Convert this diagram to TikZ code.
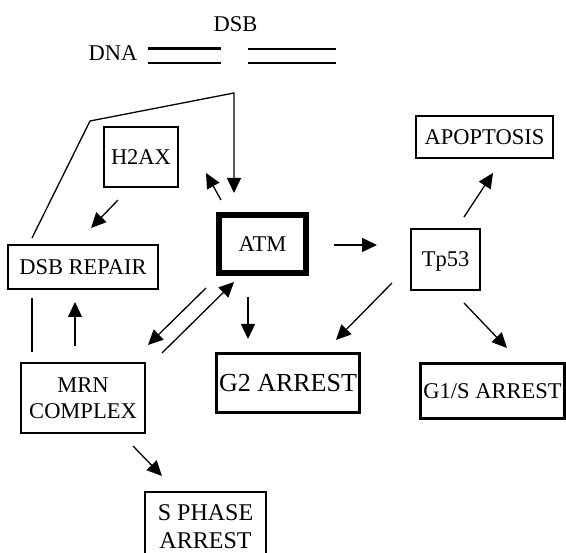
\documentclass[tikz,border=0pt]{standalone}
\usepackage{fontspec}
\setmainfont{Liberation Serif}
\usetikzlibrary{arrows.meta}
\begin{document}
\begin{tikzpicture}[x=1pt,y=-1pt,
  box/.style={draw, line width=1.3pt, inner sep=0pt, align=center, text depth=0pt,
              font=\fontsize{22.5}{26}\selectfont},
  thickbox/.style={box, line width=2.2pt},
  lbl/.style={inner sep=0pt, text depth=0pt, font=\fontsize{22.5}{26}\selectfont},
  arr/.style={line width=1.3pt, -{Triangle[length=15pt,width=14pt]}},
  plain/.style={line width=1.3pt}]
\useasboundingbox (0,0) rectangle (566,553);

% labels
\node[lbl] (dsb) at (235.5,24) {DSB};
\node[lbl] (dna) at (113,53) {DNA};

% DNA strands
\coordinate (la) at (148,49); \coordinate (lb) at (221,49);
\coordinate (lc) at (148,63); \coordinate (ld) at (221,63);
\coordinate (ra) at (248,49); \coordinate (rb) at (336,49);
\coordinate (rc) at (248,63); \coordinate (rd) at (336,63);
\draw[line width=3pt] (la) -- (lb);
\draw[line width=1.3pt] (lc) -- (ld);
\draw[line width=2pt] (ra) -- (rb);
\draw[line width=1.3pt] (rc) -- (rd);

% boxes
\node[box, minimum width=74pt, minimum height=60pt] (h2ax) at (141,157) {H2AX};
\node[thickbox, minimum width=137pt, minimum height=42pt] (apop) at (484.5,137) {APOPTOSIS};
\node[box, minimum width=150pt, minimum height=44pt] (dsbr) at (83,267) {DSB REPAIR};
\node[box, line width=5.5pt, minimum width=87pt, minimum height=58pt] (atm) at (262.5,244) {ATM};
\node[box, minimum width=69pt, minimum height=61pt] (tp53) at (445.5,259.5) {Tp53};
\node[box, minimum width=124pt, minimum height=70pt] (mrn) at (83,398) {MRN\\COMPLEX};
\node[thickbox, minimum width=143pt, minimum height=59pt, font=\fontsize{26}{30}\selectfont] (g2) at (288,383) {G2 ARREST};
\node[thickbox, minimum width=144pt, minimum height=55pt] (g1s) at (492.5,391) {G1/S ARREST};
\node[thickbox, minimum width=121pt, minimum height=70pt, font=\fontsize{24}{28}\selectfont] (sph) at (205.5,527) {S PHASE\\ARREST};

% connector end points
\coordinate (fbA) at (32,238);
\coordinate (fbB) at (90,121);
\coordinate (fbC) at (234,93);
\coordinate (fbD) at (234,193);
\coordinate (ah1) at (221,200); \coordinate (ah2) at (206,173);
\coordinate (hd1) at (118,200); \coordinate (hd2) at (91,228);
\coordinate (at1) at (334,245); \coordinate (at2) at (377,245);
\coordinate (ta1) at (464,217); \coordinate (ta2) at (493,173);
\coordinate (am1) at (206,288); \coordinate (am2) at (148,345);
\coordinate (ma1) at (162,353); \coordinate (ma2) at (234,282);
\coordinate (ag1) at (248,297); \coordinate (ag2) at (248,339);
\coordinate (tg1) at (392,283); \coordinate (tg2) at (336,340);
\coordinate (tgs1) at (464,303); \coordinate (tgs2) at (507,348);
\coordinate (md1) at (32,352); \coordinate (md2) at (32,298);
\coordinate (mr1) at (75,346); \coordinate (mr2) at (75,302);
\coordinate (ms1) at (133,446); \coordinate (ms2) at (162,476);

% connectors
\draw[arr, line join=miter] (fbA) -- (fbB) -- (fbC) -- (fbD);
\draw[arr] (ah1) -- (ah2);
\draw[arr] (hd1) -- (hd2);
\draw[arr] (at1) -- (at2);
\draw[arr] (ta1) -- (ta2);
\draw[arr] (am1) -- (am2);
\draw[arr] (ma1) -- (ma2);
\draw[arr] (ag1) -- (ag2);
\draw[arr] (tg1) -- (tg2);
\draw[arr] (tgs1) -- (tgs2);
\draw[plain] (md1) -- (md2);
\draw[arr] (mr1) -- (mr2);
\draw[arr] (ms1) -- (ms2);
\end{tikzpicture}
\end{document}
